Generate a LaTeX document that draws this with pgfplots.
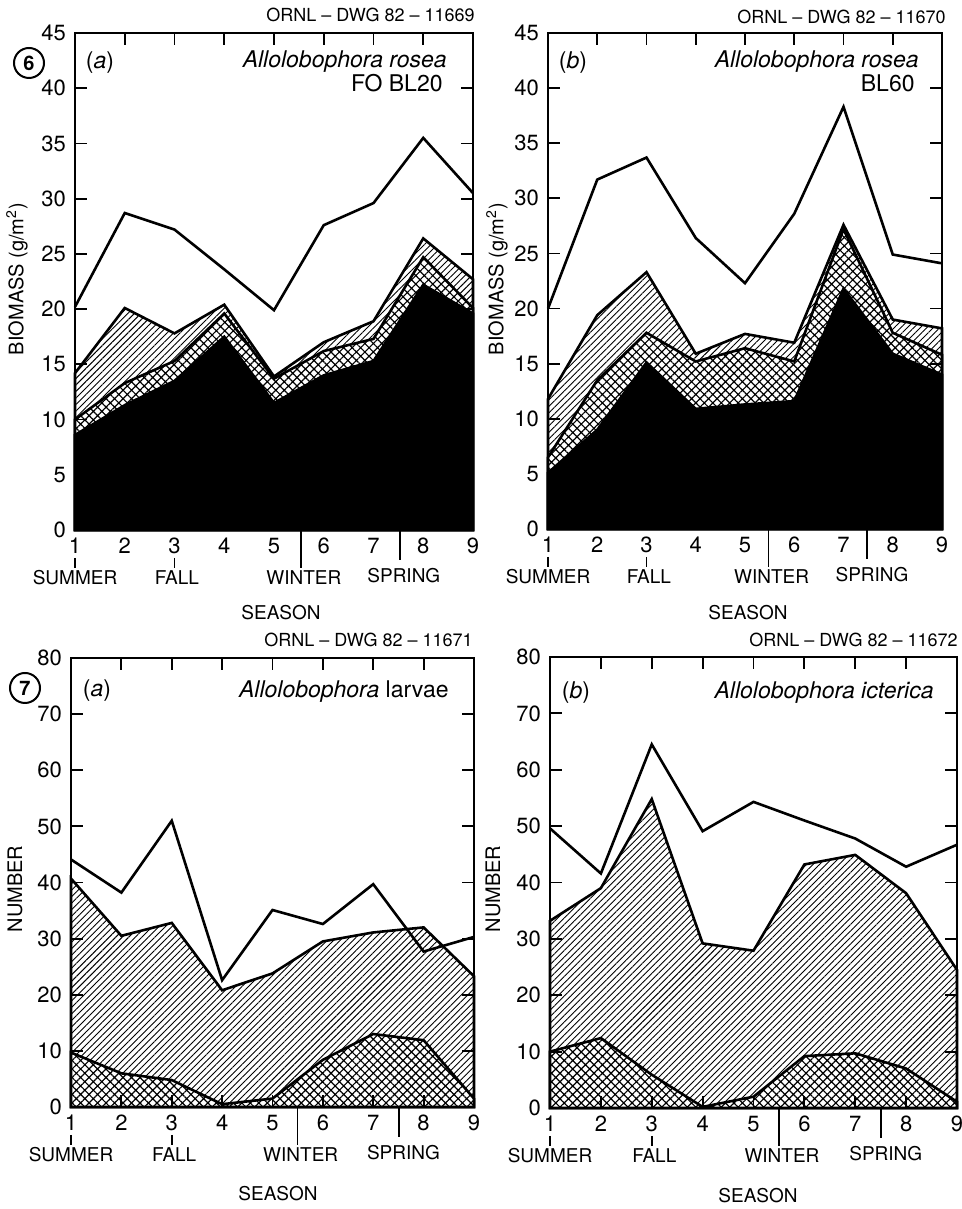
\documentclass[border=0pt]{standalone}
\usepackage{fontspec}
\setmainfont{TeX Gyre Heros}
\setsansfont{TeX Gyre Heros}
\usepackage{pgfplots}
\usepackage{pgfplotstable}
\pgfplotsset{compat=1.18}
\usetikzlibrary{patterns.meta}

% x, black top, crosshatch top, hatch top, total
\pgfplotstableread{
x  a     b     c     d
1  8.6   10.0  14.2  20.2
2  11.3  13.3  20.1  28.7
3  13.5  15.3  17.8  27.2
4  17.5  19.6  20.4  23.6
5  11.5  13.7  13.9  19.9
6  14.0  16.2  17.0  27.6
7  15.3  17.3  18.9  29.6
8  22.2  24.7  26.4  35.5
9  19.6  20.1  22.7  30.5
}\rosea

\pgfplotstableread{
x  a     b     c     d
1  5.1   6.5   11.8  20.0
2  9.0   13.5  19.4  31.7
3  15.1  17.8  23.3  33.7
4  10.9  15.2  15.9  26.4
5  11.3  16.4  17.7  22.3
6  11.6  15.2  16.9  28.6
7  21.8  27.2  27.6  38.3
8  15.9  17.8  19.0  24.9
9  14.0  15.8  18.2  24.1
}\roseab

% x, crosshatch top, hatch top, total
\pgfplotstableread{
x  b     c     d
1  9.7   40.7  44.1
2  6.0   30.5  38.2
3  4.8   32.8  51.0
4  0.5   20.8  22.6
5  1.5   23.8  35.1
6  8.4   29.5  32.6
7  13.0  31.1  39.7
8  11.9  32.0  27.7
9  1.5   23.3  30.3
}\larvae

\pgfplotstableread{
x  b     c     d
1  10.0  33.2  49.6
2  12.4  39.0  41.6
3  5.9   54.8  64.5
4  0.2   29.2  49.1
5  2.0   27.9  54.3
6  9.2   43.2  51.0
7  9.7   44.9  47.8
8  7.0   38.1  42.8
9  1.1   24.5  46.7
}\icterica

\pgfplotsset{
  fig/.style={scale only axis, anchor=south west, xmin=1, xmax=9, xtick={1,...,9},
    tick align=inside, xtick pos=both, ytick pos=both, xticklabel pos=left, yticklabel pos=left,
    major tick length=6pt, axis on top, clip=false,
    axis line style={line width=0.9pt}, every tick/.style={black, line width=0.9pt},
    tick label style={font=\fontsize{11}{13}\selectfont},
    xticklabel style={yshift=-0.5pt}, yticklabel style={xshift=-1pt},
    /pgf/number format/assume math mode=true},
  blank/.style={fill=white, draw=none, forget plot},
  hatch/.style={draw=black, line width=1.3pt, pattern={Lines[angle=45,distance=2.3pt,line width=0.45pt]}},
  cross/.style={draw=black, line width=1.3pt, pattern={Hatch[angle=45,distance=3pt,line width=0.6pt]}},
  solid black/.style={draw=black, line width=1.3pt, fill=black},
  total/.style={black, line width=1.3pt},
}

\newcommand{\seasons}[4]{%
  \draw[line width=0.8pt] ([yshift=-14pt]axis cs:1,0) -- ([yshift=-19pt]axis cs:1,0);
  \draw[line width=0.8pt] ([yshift=-14pt]axis cs:3,0) -- ([yshift=-19pt]axis cs:3,0);
  \draw[line width=0.8pt] (axis cs:#1,0) -- ([yshift=-19pt]axis cs:#1,0);
  \draw[line width=0.8pt] (axis cs:#3,0) -- ([yshift=-15pt]axis cs:#3,0);
  \node[font=\fontsize{9.5}{11}\selectfont] at ([yshift=-24pt]axis cs:1,0) {SUMMER};
  \node[font=\fontsize{9.5}{11}\selectfont] at ([yshift=-24pt]axis cs:3.05,0) {FALL};
  \node[font=\fontsize{9.5}{11}\selectfont] at ([yshift=-24pt]axis cs:#2,0) {WINTER};
  \node[font=\fontsize{9.5}{11}\selectfont] at ([yshift=-23pt]axis cs:#4,0) {SPRING};
}

\begin{document}
\begin{tikzpicture}
\fill[white] (0,0) rectangle (481pt,604.5pt);
\useasboundingbox (0,0) rectangle (481pt,604.5pt);

% ---- Fig 6a
\begin{axis}[fig, at={(37.5pt,339.5pt)}, width=199pt, height=248.5pt, ymin=0, ymax=45, ytick={0,5,...,45}]
\addplot[blank] table[x=x,y=c] {\rosea} \closedcycle;
\addplot[hatch] table[x=x,y=c] {\rosea} \closedcycle;
\addplot[blank] table[x=x,y=b] {\rosea} \closedcycle;
\addplot[cross] table[x=x,y=b] {\rosea} \closedcycle;
\addplot[solid black] table[x=x,y=a] {\rosea} \closedcycle;
\addplot[total] table[x=x,y=d] {\rosea};
\seasons{5.54}{5.6}{7.53}{7.61}
\end{axis}

% ---- Fig 6b
\begin{axis}[fig, at={(274pt,340pt)}, width=197pt, height=248pt, ymin=0, ymax=45, ytick={0,5,...,45}]
\addplot[blank] table[x=x,y=c] {\roseab} \closedcycle;
\addplot[hatch] table[x=x,y=c] {\roseab} \closedcycle;
\addplot[blank] table[x=x,y=b] {\roseab} \closedcycle;
\addplot[cross] table[x=x,y=b] {\roseab} \closedcycle;
\addplot[solid black] table[x=x,y=a] {\roseab} \closedcycle;
\addplot[total] table[x=x,y=d] {\roseab};
\seasons{5.48}{5.54}{7.48}{7.58}
\end{axis}

% ---- Fig 7a
\begin{axis}[fig, at={(35.5pt,51pt)}, width=201.5pt, height=224.5pt, ymin=0, ymax=80, ytick={0,10,...,80}]
\addplot[blank] table[x=x,y=c] {\larvae} \closedcycle;
\addplot[hatch] table[x=x,y=c] {\larvae} \closedcycle;
\addplot[blank] table[x=x,y=b] {\larvae} \closedcycle;
\addplot[cross] table[x=x,y=b] {\larvae} \closedcycle;
\addplot[total] table[x=x,y=d] {\larvae};
\seasons{5.50}{5.56}{7.51}{7.6}
\end{axis}

% ---- Fig 7b
\begin{axis}[fig, at={(275pt,50.5pt)}, width=203.5pt, height=225.5pt, ymin=0, ymax=80, ytick={0,10,...,80}]
\addplot[blank] table[x=x,y=c] {\icterica} \closedcycle;
\addplot[hatch] table[x=x,y=c] {\icterica} \closedcycle;
\addplot[blank] table[x=x,y=b] {\icterica} \closedcycle;
\addplot[cross] table[x=x,y=b] {\icterica} \closedcycle;
\addplot[total] table[x=x,y=d] {\icterica};
\seasons{5.50}{5.56}{7.51}{7.6}
\end{axis}

% ---- annotations
\tikzset{lab/.style={font=\fontsize{11.5}{13}\selectfont, inner sep=0pt},
         dwg/.style={font=\fontsize{9}{10}\selectfont, inner sep=0pt, anchor=east},
         circ/.style={draw, circle, line width=1pt, inner sep=0pt, minimum size=15pt, font=\bfseries\fontsize{10}{11}\selectfont}}

\node[dwg] at (237.5pt,597pt) {ORNL -- DWG 82 -- 11669};
\node[dwg] at (473pt,596pt) {ORNL -- DWG 82 -- 11670};
\node[dwg] at (236.5pt,284.5pt) {ORNL -- DWG 82 -- 11671};
\node[dwg] at (479pt,284.5pt) {ORNL -- DWG 82 -- 11672};

\node[circ] at (14.5pt,573pt) {6};
\node[circ] at (12.5pt,260.5pt) {7};

\node[lab] at (50pt,573pt) {(\textit{a})};
\node[lab, anchor=east] at (223.5pt,573.5pt) {\textit{Allolobophora rosea}};
\node[lab, anchor=east] at (221.5pt,563pt) {FO BL20};

\node[lab] at (286.5pt,573pt) {(\textit{b})};
\node[lab, anchor=east] at (459.5pt,573.5pt) {\textit{Allolobophora rosea}};
\node[lab, anchor=east] at (457.5pt,563pt) {BL60};

\node[lab] at (48.5pt,259pt) {(\textit{a})};
\node[lab, anchor=east] at (224.5pt,258.5pt) {\textit{Allolobophora} larvae};

\node[lab] at (288pt,258pt) {(\textit{b})};
\node[lab, anchor=east] at (467pt,258pt) {\textit{Allolobophora icterica}};

\node[font=\fontsize{10}{12}\selectfont, rotate=90] at (8.5pt,465pt) {BIOMASS (g/m\textsuperscript{2})};
\node[font=\fontsize{10}{12}\selectfont, rotate=90] at (248.5pt,465pt) {BIOMASS (g/m\textsuperscript{2})};
\node[font=\fontsize{10}{12}\selectfont, rotate=90] at (7.5pt,160pt) {NUMBER};
\node[font=\fontsize{10}{12}\selectfont, rotate=90] at (246.5pt,160pt) {NUMBER};

\node[font=\fontsize{9.5}{11}\selectfont] at (140.5pt,298pt) {SEASON};
\node[font=\fontsize{9.5}{11}\selectfont] at (374pt,298pt) {SEASON};
\node[font=\fontsize{9.5}{11}\selectfont] at (139pt,7.5pt) {SEASON};
\node[font=\fontsize{9.5}{11}\selectfont] at (379pt,6.5pt) {SEASON};
\end{tikzpicture}
\end{document}
